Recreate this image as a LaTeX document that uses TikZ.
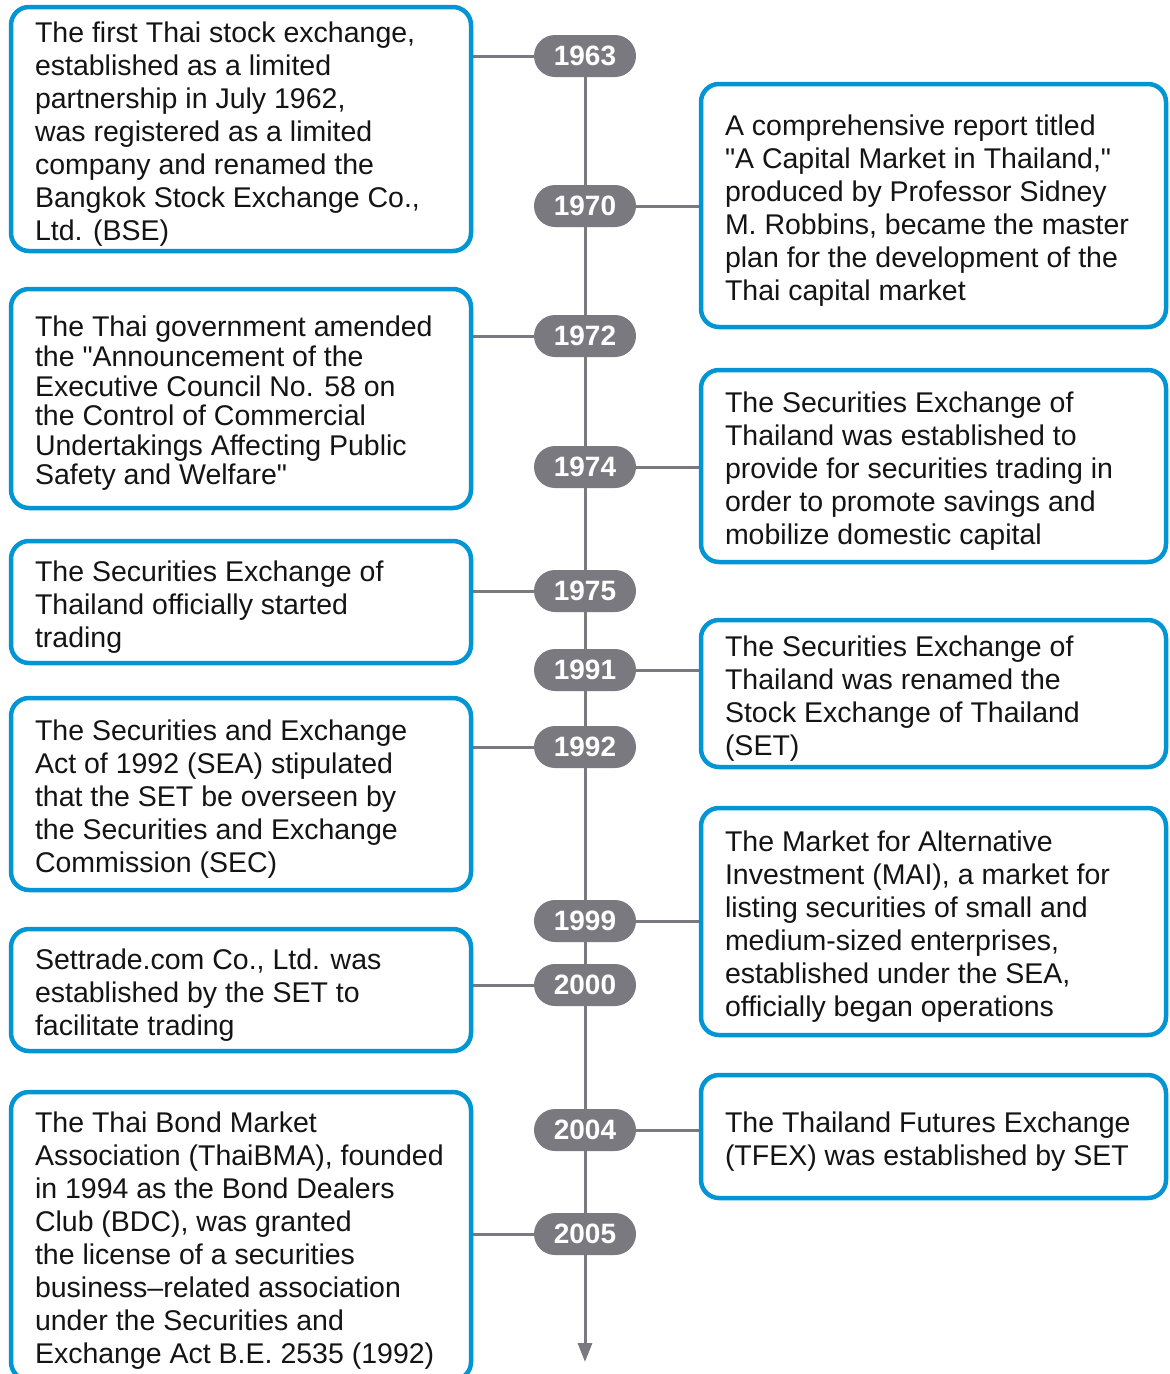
\documentclass[tikz,border=0pt]{standalone}
\usepackage{fontspec}
\setmainfont{Liberation Sans}[Ligatures=TeXOff]
\usetikzlibrary{arrows.meta,backgrounds}
\definecolor{boxblue}{RGB}{0,150,214}
\definecolor{tlgray}{RGB}{122,121,128}
\definecolor{txt}{RGB}{20,20,20}
\begin{document}
\begin{tikzpicture}[x=1pt,y=-1pt,
  evbox/.style={draw=boxblue, line width=4.5pt, rounded corners=18pt, fill=white,
    inner sep=0pt, minimum width=#1},
  lbox/.style={evbox=460pt},
  rbox/.style={evbox=465pt},
  evtext/.style={inner sep=0pt, text width=#1, align=flush left, text=txt,
    font=\fontsize{28.5}{33}\selectfont, yshift=-5pt},
  ltext/.style={evtext=412pt},
  rtext/.style={evtext=417pt},
  yr/.style={fill=tlgray, text=white, font=\bfseries\fontsize{28}{28}\selectfont,
    minimum width=102pt, minimum height=42pt, rounded corners=21pt, inner sep=0pt},
  tl/.style={draw=tlgray, line width=3pt}
]
\useasboundingbox (0,0) rectangle (1170,1374);
\clip (0,0) rectangle (1170,1374);

% end of time line
\coordinate (tlend) at (585,1362);

% year badges
\node[yr] (y1963) at (585,56)   {1963};
\node[yr] (y1970) at (585,206)  {1970};
\node[yr] (y1972) at (585,336)  {1972};
\node[yr] (y1974) at (585,467)  {1974};
\node[yr] (y1975) at (585,591)  {1975};
\node[yr] (y1991) at (585,670)  {1991};
\node[yr] (y1992) at (585,747)  {1992};
\node[yr] (y1999) at (585,921)  {1999};
\node[yr] (y2000) at (585,985)  {2000};
\node[yr] (y2004) at (585,1130) {2004};
\node[yr] (y2005) at (585,1234) {2005};

% left boxes
\node[lbox, minimum height=244pt] (b1) at (241,129) {};
\node[ltext] (b1t) at (b1.center) {The first Thai stock exchange,\\ established as a limited\\ partnership in July 1962,\\ was registered as a limited\\ company and renamed the\\ Bangkok Stock Exchange Co.,\\ Ltd. (BSE)};
\node[lbox, minimum height=219pt] (b2) at (241,398.5) {};
\node[ltext, font=\fontsize{28.5}{29.6}\selectfont] (b2t) at (b2.center) {The Thai government amended\\ the "Announcement of the\\ Executive Council No. 58 on\\ the Control of Commercial\\ Undertakings Affecting Public\\ Safety and Welfare"};
\node[lbox, minimum height=122pt] (b3) at (241,602) {};
\node[ltext] (b3t) at (b3.center) {The Securities Exchange of\\ Thailand officially started\\ trading};
\node[lbox, minimum height=192pt] (b4) at (241,794) {};
\node[ltext] (b4t) at (b4.center) {The Securities and Exchange\\ Act of 1992 (SEA) stipulated\\ that the SET be overseen by\\ the Securities and Exchange\\ Commission (SEC)};
\node[lbox, minimum height=122pt] (b5) at (241,990) {};
\node[ltext] (b5t) at (b5.center) {Settrade.com Co., Ltd. was\\ established by the SET to\\ facilitate trading};
\node[lbox, minimum height=288pt] (b6) at (241,1236) {};
\node[ltext] (b6t) at (b6.center) {The Thai Bond Market\\ Association (ThaiBMA), founded\\ in 1994 as the Bond Dealers\\ Club (BDC), was granted\\ the license of a securities\\ business–related association\\ under the Securities and\\ Exchange Act B.E. 2535 (1992)};

% right boxes
\node[rbox, minimum height=243pt] (r1) at (933.5,205.5) {};
\node[rtext] (r1t) at (r1.center) {A comprehensive report titled\\ "A Capital Market in Thailand,"\\ produced by Professor Sidney\\ M. Robbins, became the master\\ plan for the development of the\\ Thai capital market};
\node[rbox, minimum height=192pt] (r2) at (933.5,466) {};
\node[rtext] (r2t) at (r2.center) {The Securities Exchange of\\ Thailand was established to\\ provide for securities trading in\\ order to promote savings and\\ mobilize domestic capital};
\node[rbox, minimum height=147pt] (r3) at (933.5,693.5) {};
\node[rtext] (r3t) at (r3.center) {The Securities Exchange of\\ Thailand was renamed the\\ Stock Exchange of Thailand\\ (SET)};
\node[rbox, minimum height=227pt] (r4) at (933.5,921.5) {};
\node[rtext] (r4t) at (r4.center) {The Market for Alternative\\ Investment (MAI), a market for\\ listing securities of small and\\ medium-sized enterprises,\\ established under the SEA,\\ officially began operations};
\node[rbox, minimum height=123pt] (r5) at (933.5,1136.5) {};
\node[rtext] (r5t) at (r5.center) {The Thailand Futures Exchange\\ (TFEX) was established by SET};

\begin{scope}[on background layer]
  \fill[white] (0,0) rectangle (1170,1374);
  \draw[tl, -{Triangle[width=14pt,length=19pt]}] (y1963.center) -- (tlend);
  \draw[tl] (y1963.west) -- (y1963.west -| b1.east);
  \draw[tl] (y1972.west) -- (y1972.west -| b2.east);
  \draw[tl] (y1975.west) -- (y1975.west -| b3.east);
  \draw[tl] (y1992.west) -- (y1992.west -| b4.east);
  \draw[tl] (y2000.west) -- (y2000.west -| b5.east);
  \draw[tl] (y2005.west) -- (y2005.west -| b6.east);
  \draw[tl] (y1970.east) -- (y1970.east -| r1.west);
  \draw[tl] (y1974.east) -- (y1974.east -| r2.west);
  \draw[tl] (y1991.east) -- (y1991.east -| r3.west);
  \draw[tl] (y1999.east) -- (y1999.east -| r4.west);
  \draw[tl] (y2004.east) -- (y2004.east -| r5.west);
\end{scope}
\end{tikzpicture}
\end{document}
